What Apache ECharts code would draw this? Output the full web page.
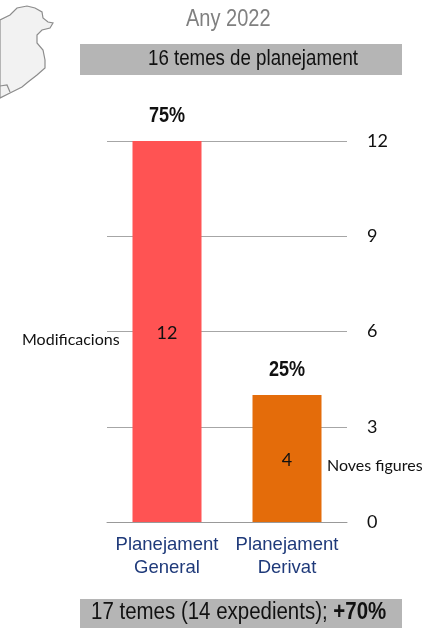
<!DOCTYPE html>
<html><head><meta charset="utf-8">
<style>html,body{margin:0;padding:0;background:#fff}#c{width:438px;height:629px}</style>
<script src="https://cdn.jsdelivr.net/npm/echarts@6/dist/echarts.min.js"></script>
</head><body><div id="c"></div>
<script>
const categories = ['Planejament\nGeneral', 'Planejament\nDerivat'];
const values = [12, 4];
const barColors = ['#FF5353', '#E46C0A'];
const percents = ['75%', '25%'];
const yTicks = [0, 3, 6, 9, 12];
const yearTitle = 'Any 2022';
const topBanner = '16 temes de planejament';
const bottomBannerPlain = '17 temes (14 expedients); ';
const bottomBannerBold = '+70%';
const noteLeft = 'Modificacions';
const noteRight = 'Noves figures';
const mapOutline = [[0,20],[10,15],[17,8],[27,6],[35,8],[42,12],[43,18],[48,22],[53,23],[50,28],[42,30],[37,35],[37,43],[43,50],[45,60],[45,68],[37,75],[28,82],[22,87],[10,93],[0,98]];
const mapInner = [[0,86],[7,85],[10,92]];

const sans = '"Liberation Sans", Arial, sans-serif';
const hum = 'Lato, "Open Sans", sans-serif';

const chart = echarts.init(document.getElementById('c'), null, {renderer: 'canvas'});
chart.setOption({
  animation: false,
  backgroundColor: '#fff',
  grid: {left: 107, right: 91, top: 141, bottom: 107, containLabel: false},
  xAxis: {
    type: 'category', data: categories,
    axisTick: {show: false},
    axisLine: {show: true, lineStyle: {color: '#999999', width: 1}},
    axisLabel: {color: '#1F3A7A', fontFamily: sans, fontSize: 18.5, lineHeight: 23, margin: 11, interval: 0}
  },
  yAxis: {
    type: 'value', position: 'right', min: 0, max: 12, interval: 3,
    axisLine: {show: false}, axisTick: {show: false},
    splitLine: {show: true, lineStyle: {color: '#A6A6A6', width: 1}},
    axisLabel: {color: '#111', fontFamily: hum, fontSize: 18, margin: 20,
      formatter: v => yTicks.includes(v) ? String(v) : ''}
  },
  series: [
    {
      type: 'bar', barWidth: 69,
      data: values.map((v, i) => ({value: v, itemStyle: {color: barColors[i]}})),
      label: {show: true, position: 'inside', offset: [0, 2], color: '#111', fontFamily: hum, fontSize: 18}
    },
    {
      type: 'custom', silent: true,
      data: values.map((v, i) => [i, v]),
      encode: {x: 0, y: 1},
      renderItem: (params, api) => {
        const p = api.coord([api.value(0), api.value(1)]);
        return {
          type: 'text', x: p[0], y: p[1] - 14, scaleX: 0.82,
          style: {text: percents[params.dataIndex], fill: '#111', font: 'bold 22px ' + sans,
            textAlign: 'center', textVerticalAlign: 'bottom'}
        };
      }
    }
  ],
  graphic: [
    {type: 'polygon', shape: {points: mapOutline}, style: {fill: '#F2F2F2', stroke: '#8C8C8C', lineWidth: 1.2}},
    {type: 'polyline', shape: {points: mapInner}, style: {fill: 'none', stroke: '#8C8C8C', lineWidth: 1.2}},
    {type: 'text', x: 186, y: 8, scaleX: 0.87, style: {text: yearTitle, fill: '#808080', font: '23px ' + sans}},
    {type: 'rect', shape: {x: 80, y: 44, width: 322, height: 31}, style: {fill: '#B5B5B5'}},
    {type: 'text', x: 148, y: 48, scaleX: 0.85, style: {text: topBanner, fill: '#111', font: '22px ' + sans}},
    {type: 'rect', shape: {x: 80, y: 599, width: 322, height: 29}, style: {fill: '#B5B5B5'}},
    {type: 'text', x: 91, y: 601, scaleX: 0.89, style: {
      rich: {a: {fill: '#111', font: '23px ' + sans}, b: {fill: '#111', font: 'bold 23px ' + sans}},
      text: '{a|' + bottomBannerPlain + '}{b|' + bottomBannerBold + '}'}},
    {type: 'text', x: 22, y: 332, style: {text: noteLeft, fill: '#111', font: '16px ' + hum}},
    {type: 'text', x: 327, y: 458, style: {text: noteRight, fill: '#111', font: '16px ' + hum}}
  ]
});
</script></body></html>
